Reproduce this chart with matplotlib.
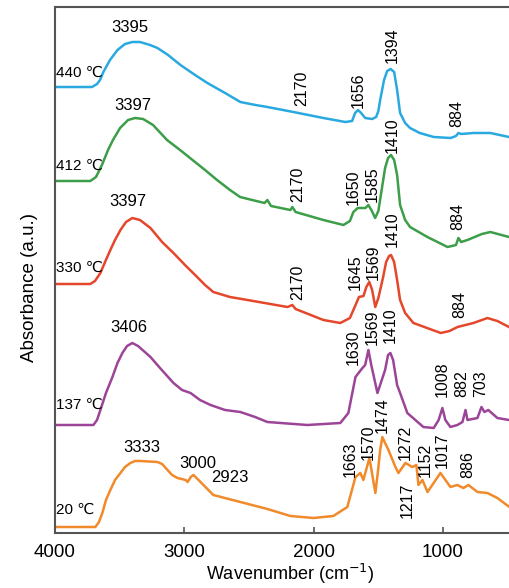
import matplotlib
matplotlib.use("Agg")
import matplotlib.pyplot as plt

plt.rcParams['font.family'] = ['Liberation Sans', 'DejaVu Sans']

# FTIR spectra (wavenumber in cm-1, absorbance in a.u., offset)
w_440 = [4000, 3714, 3675, 3652, 3626, 3575, 3517, 3459, 3402, 3343, 3265, 3208, 3126, 3030,
         2917, 2822, 2685, 2567, 2450, 2358, 2157, 1925, 1755, 1703, 1680, 1657, 1633, 1602,
         1548, 1517, 1500, 1486, 1456, 1432, 1405, 1378, 1355, 1332, 1293, 1255, 1180, 1072,
         941, 900, 881, 860, 765, 634, 490]
a_440 = [4.46, 4.46, 4.49, 4.53, 4.61, 4.73, 4.83, 4.89, 4.91, 4.91, 4.88, 4.85, 4.78, 4.68,
         4.58, 4.50, 4.40, 4.31, 4.28, 4.26, 4.21, 4.15, 4.11, 4.12, 4.20, 4.23, 4.20, 4.15,
         4.14, 4.16, 4.22, 4.33, 4.53, 4.62, 4.64, 4.61, 4.43, 4.20, 4.10, 4.05, 4.00, 3.96,
         3.95, 3.97, 4.00, 3.99, 4.00, 4.00, 3.96]

w_412 = [4000, 3727, 3683, 3637, 3590, 3552, 3497, 3435, 3381, 3319, 3242, 3134, 3033, 2956,
         2840, 2747, 2647, 2569, 2476, 2380, 2358, 2330, 2180, 2165, 2140, 1925, 1770, 1720,
         1693, 1660, 1639, 1600, 1577, 1550, 1525, 1500, 1471, 1448, 1425, 1402, 1378, 1355,
         1332, 1293, 1255, 1121, 965, 900, 881, 860, 811, 700, 634, 490]
a_412 = [3.52, 3.52, 3.56, 3.68, 3.83, 3.93, 4.05, 4.13, 4.15, 4.14, 4.08, 3.93, 3.83, 3.75,
         3.63, 3.53, 3.43, 3.36, 3.33, 3.30, 3.33, 3.27, 3.23, 3.26, 3.21, 3.13, 3.08, 3.12,
         3.21, 3.25, 3.25, 3.25, 3.28, 3.22, 3.15, 3.22, 3.46, 3.65, 3.75, 3.78, 3.73, 3.58,
         3.28, 3.13, 3.06, 2.96, 2.86, 2.88, 2.95, 2.91, 2.93, 2.99, 3.01, 2.96]

w_330 = [4000, 3727, 3691, 3649, 3613, 3572, 3536, 3494, 3451, 3402, 3343, 3262, 3172, 3084,
         2995, 2901, 2840, 2776, 2647, 2512, 2203, 2165, 2140, 1925, 1794, 1720, 1693, 1650,
         1615, 1593, 1570, 1548, 1524, 1500, 1463, 1440, 1417, 1402, 1378, 1355, 1332, 1293,
         1229, 1018, 950, 888, 765, 657, 580, 490]
a_330 = [2.49, 2.49, 2.52, 2.60, 2.71, 2.83, 2.93, 3.03, 3.11, 3.15, 3.13, 3.05, 2.91, 2.80,
         2.68, 2.56, 2.48, 2.41, 2.36, 2.33, 2.26, 2.28, 2.24, 2.13, 2.10, 2.15, 2.23, 2.36,
         2.37, 2.46, 2.51, 2.43, 2.26, 2.35, 2.56, 2.71, 2.77, 2.78, 2.71, 2.53, 2.33, 2.20,
         2.10, 2.00, 2.02, 2.06, 2.10, 2.15, 2.12, 2.06]

w_137 = [4000, 3703, 3675, 3649, 3606, 3556, 3517, 3479, 3443, 3402, 3358, 3262, 3188, 3084,
         3018, 2952, 2879, 2798, 2685, 2567, 2453, 2358, 2049, 1794, 1732, 1677, 1623, 1602,
         1577, 1555, 1507, 1448, 1425, 1407, 1386, 1355, 1332, 1276, 1152, 1072, 1034, 1005,
         982, 943, 889, 850, 826, 811, 734, 703, 680, 650, 580, 490]
a_137 = [1.08, 1.08, 1.13, 1.23, 1.40, 1.56, 1.70, 1.80, 1.87, 1.90, 1.87, 1.76, 1.65, 1.50,
         1.43, 1.40, 1.33, 1.28, 1.23, 1.21, 1.16, 1.11, 1.08, 1.10, 1.20, 1.56, 1.65, 1.68,
         1.83, 1.68, 1.40, 1.63, 1.78, 1.80, 1.73, 1.48, 1.40, 1.20, 1.06, 1.05, 1.13, 1.25,
         1.13, 1.06, 1.08, 1.11, 1.23, 1.13, 1.15, 1.26, 1.21, 1.23, 1.15, 1.13]

w_20 = [4000, 3688, 3660, 3634, 3606, 3572, 3536, 3494, 3459, 3417, 3381, 3340, 3208, 3172,
        3130, 3095, 3053, 2990, 2975, 2950, 2929, 2852, 2776, 2567, 2358, 2180, 2002, 1848,
        1740, 1700, 1677, 1639, 1616, 1569, 1523, 1502, 1486, 1469, 1448, 1422, 1368, 1345,
        1291, 1237, 1206, 1190, 1159, 1120, 1020, 943, 889, 843, 804, 734, 657, 580, 487]
a_20 = [0.06, 0.06, 0.11, 0.20, 0.33, 0.43, 0.53, 0.60, 0.66, 0.70, 0.72, 0.72, 0.71, 0.69,
        0.63, 0.58, 0.55, 0.53, 0.51, 0.56, 0.58, 0.48, 0.38, 0.31, 0.24, 0.17, 0.15, 0.17,
        0.26, 0.45, 0.56, 0.60, 0.53, 0.75, 0.40, 0.63, 0.83, 0.96, 0.90, 0.83, 0.66, 0.60,
        0.70, 0.66, 0.68, 0.48, 0.53, 0.41, 0.60, 0.46, 0.48, 0.45, 0.48, 0.41, 0.40, 0.35,
        0.26]

series = [
    ("440 ℃", w_440, a_440, "#2aa9e0", 4.60),
    ("412 ℃", w_412, a_412, "#3c9e48", 3.67),
    ("330 ℃", w_330, a_330, "#e5472c", 2.65),
    ("137 ℃", w_137, a_137, "#9c4598", 1.28),
    ("20 ℃", w_20, a_20, "#f08a2a", 0.23),
]

# horizontal peak labels: text, wavenumber, height
h_labels = [("3395", 3420, 5.05), ("3397", 3397, 4.27), ("3397", 3435, 3.31),
            ("3406", 3428, 2.05), ("3333", 3327, 0.85), ("3000", 2894, 0.70),
            ("2923", 2647, 0.55)]

# vertical peak labels: text, wavenumber, bottom of text
v_labels = [("2170", 2090, 4.27), ("1656", 1657, 4.25), ("1394", 1394, 4.70), ("884", 891, 4.06),
            ("2170", 2121, 3.31), ("1650", 1695, 3.28), ("1585", 1548, 3.31), ("1410", 1394, 3.80),
            ("884", 883, 3.03),
            ("2170", 2121, 2.33), ("1645", 1680, 2.43), ("1569", 1541, 2.53), ("1410", 1394, 2.86),
            ("884", 868, 2.15),
            ("1630", 1695, 1.68), ("1569", 1548, 1.88), ("1410", 1409, 1.90), ("1008", 1007, 1.36),
            ("882", 852, 1.36), ("703", 713, 1.36),
            ("1663", 1718, 0.56), ("1570", 1579, 0.73), ("1474", 1471, 1.00), ("1272", 1293, 0.73),
            ("1217", 1278, 0.15), ("1152", 1138, 0.56), ("1017", 1007, 0.65), ("886", 806, 0.55)]

fig = plt.figure(figsize=(5.09, 5.88), dpi=100)
ax = fig.add_axes([55 / 509, 55 / 588, 1 - 55 / 509, 526 / 588])

for name, w, a, col, ty in series:
    ax.plot(w, a, color=col, lw=1.8, solid_joinstyle='round')
    ax.text(3990, ty, name, fontsize=11, ha='left', va='center')

for t, w, a in h_labels:
    ax.text(w, a, t, fontsize=12, ha='center', va='center')
for t, w, a in v_labels:
    ax.text(w, a, t, fontsize=11.5, ha='center', va='bottom', rotation=90)

ax.set_xlim(4000, 490)
ax.set_ylim(0, 5.26)
ax.set_xticks([4000, 3000, 2000, 1000])
ax.set_yticks([])
ax.tick_params(axis='x', direction='in', length=4, width=1.2, color='#555555',
               labelsize=13.5, pad=8)
for s in ['left', 'top', 'bottom']:
    ax.spines[s].set_color('#555555')
    ax.spines[s].set_linewidth(1.5)
ax.spines['right'].set_visible(False)

fig.text(290 / 509, 1 - 574 / 588, "Wavenumber (cm$^{-1}$)", fontsize=13, ha='center', va='center')
fig.text(30 / 509, 1 - 288 / 588, "Absorbance (a.u.)", fontsize=13.5, ha='center', va='center',
         rotation=90)

fig.savefig("out.png", dpi=100)
